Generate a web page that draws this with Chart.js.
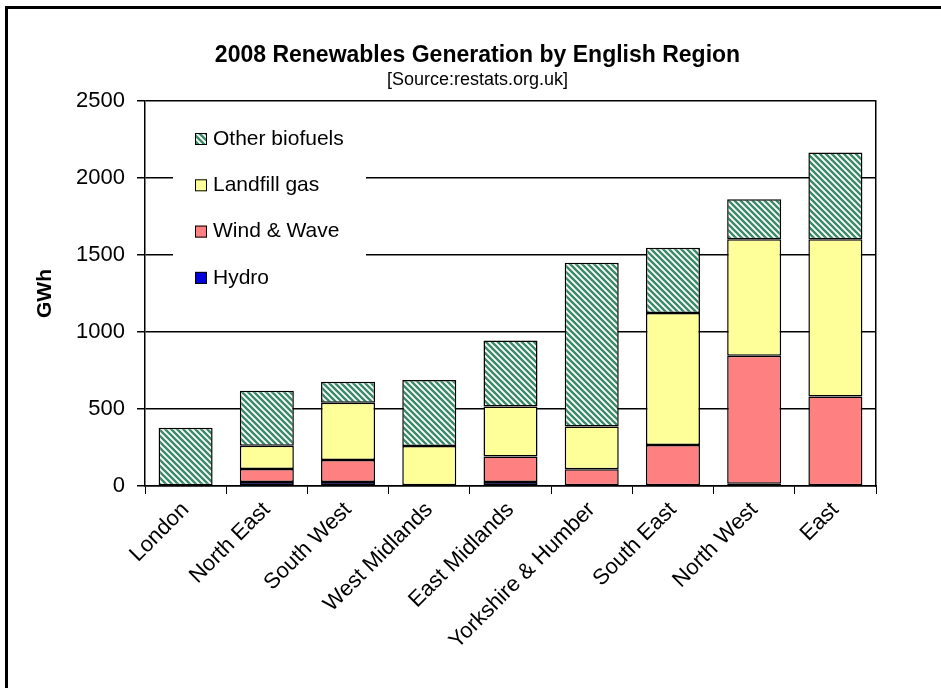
<!DOCTYPE html>
<html>
<head>
<meta charset="utf-8">
<title>2008 Renewables Generation by English Region</title>
<script src="https://cdn.jsdelivr.net/npm/chart.js@4.4.1/dist/chart.umd.min.js"></script>
<style>
    html, body { margin: 0; padding: 0; background: #fff; overflow: hidden; }
    #wrap { position: relative; width: 941px; height: 688px; }
    #moldura { position: absolute; left: 5px; top: 6px; width: 2000px; height: 2000px; border: 3px solid #000; pointer-events: none; }
</style>
</head>
<body>
<div id="wrap">
    <canvas id="grafico"></canvas>
    <div id="moldura"></div>
</div>
<script>
const regioes = ["London", "North East", "South West", "West Midlands", "East Midlands", "Yorkshire & Humber", "South East", "North West", "East"]
const hidro = [null, 26, 26, null, 26, null, null, 15, null]
const eolica = [null, 85, 143, null, 165, 109, 267, 831, 581]
const aterro = [null, 151, 371, 260, 325, 277, 857, 756, 1021]
const biocomb = [378, 356, 137, 428, 428, 1064, 423, 260, 564]
const ticksY = [0, 500, 1000, 1500, 2000, 2500]

const FONTE = "'Liberation Sans', Arial, sans-serif"

function hachura(){
    const c = document.createElement("canvas")
    c.width = 6
    c.height = 6
    const g = c.getContext("2d")
    g.fillStyle = "#ffffff"
    g.fillRect(0, 0, 6, 6)
    g.strokeStyle = "#3a8a68"
    g.lineWidth = 2.4
    g.beginPath()
    g.moveTo(-3, -3); g.lineTo(9, 9)
    g.moveTo(-3, 3); g.lineTo(3, 9)
    g.moveTo(3, -3); g.lineTo(9, 3)
    g.stroke()
    return g.createPattern(c, "repeat")
}

const padraoVerde = hachura()

function serie(label, data, cor){
    return {
        label,
        data,
        backgroundColor: cor,
        borderColor: "#000",
        borderWidth: 1.5,
        borderSkipped: false,
        barPercentage: 0.665,
        categoryPercentage: 1
    }
}

const legendaInterna = {
    id: "legendaInterna",
    afterDatasetsDraw(chart){
        const ctx = chart.ctx
        const area = chart.chartArea
        const x0 = area.left + 28
        const y0 = area.top + 12
        ctx.save()
        ctx.fillStyle = "#fff"
        ctx.fillRect(x0, y0, 193, 190)
        ctx.font = `21px ${FONTE}`
        ctx.textBaseline = "middle"
        const itens = chart.data.datasets.slice().reverse()
        itens.forEach((ds, i) => {
            const cy = area.top + 38 + i * 46.3
            ctx.fillStyle = ds.backgroundColor
            ctx.fillRect(x0 + 22, cy - 6, 12, 12)
            ctx.strokeStyle = "#000"
            ctx.lineWidth = 1
            ctx.strokeRect(x0 + 22.5, cy - 5.5, 11, 11)
            ctx.fillStyle = "#000"
            ctx.fillText(ds.label, x0 + 40, cy)
        })
        ctx.restore()
    }
}

function montarGrafico(){
    const ctx = document.getElementById("grafico")

    new Chart(ctx, {
        type: "bar",
        data: {
            labels: regioes,
            datasets: [
                serie("Hydro", hidro, "#0000dd"),
                serie("Wind & Wave", eolica, "#ff8080"),
                serie("Landfill gas", aterro, "#ffff99"),
                serie("Other biofuels", biocomb, padraoVerde)
            ]
        },
        options: {
            responsive: true,
            maintainAspectRatio: false,
            animation: false,
            layout: { padding: { left: 14, right: 0, top: 0, bottom: 0 } },
            plugins: {
                legend: { display: false },
                tooltip: { enabled: false },
                title: {
                    display: true,
                    text: "2008 Renewables Generation by English Region",
                    color: "#000",
                    font: { family: FONTE, size: 23, weight: "bold" },
                    padding: { top: 42, bottom: 0 }
                },
                subtitle: {
                    display: true,
                    text: "[Source:restats.org.uk]",
                    color: "#000",
                    font: { family: FONTE, size: 18 },
                    padding: { top: 0, bottom: 9.8 }
                }
            },
            scales: {
                x: {
                    stacked: true,
                    offset: true,
                    grid: { display: true, drawOnChartArea: false, drawTicks: true, tickLength: 8, color: "#000", offset: true },
                    border: { display: true, color: "#000", width: 1.5 },
                    ticks: {
                        color: "#000",
                        font: { family: FONTE, size: 22 },
                        minRotation: 45,
                        maxRotation: 45,
                        autoSkip: false,
                        padding: 3
                    },
                    afterFit(scale){ scale.height = 202 }
                },
                y: {
                    stacked: true,
                    min: 0,
                    max: 2500,
                    afterBuildTicks(scale){ scale.ticks = ticksY.map(v => ({ value: v })) },
                    grid: { color: "#000", lineWidth: 1.5, tickLength: 8 },
                    border: { display: true, color: "#000", width: 1.5 },
                    ticks: {
                        color: "#000",
                        font: { family: FONTE, size: 22 },
                        padding: 12,
                        callback: v => String(v)
                    },
                    title: {
                        display: true,
                        text: "GWh",
                        color: "#000",
                        font: { family: FONTE, size: 21, weight: "bold" },
                        padding: { top: 19, bottom: 0 }
                    },
                    afterFit(scale){ scale.width = 131 }
                },
                direita: {
                    position: "right",
                    grid: { display: false },
                    border: { display: true, color: "#000", width: 1.5 },
                    ticks: { display: false },
                    afterFit(scale){ scale.width = 65 }
                }
            }
        },
        plugins: [legendaInterna]
    })
}

montarGrafico()
</script>
</body>
</html>
